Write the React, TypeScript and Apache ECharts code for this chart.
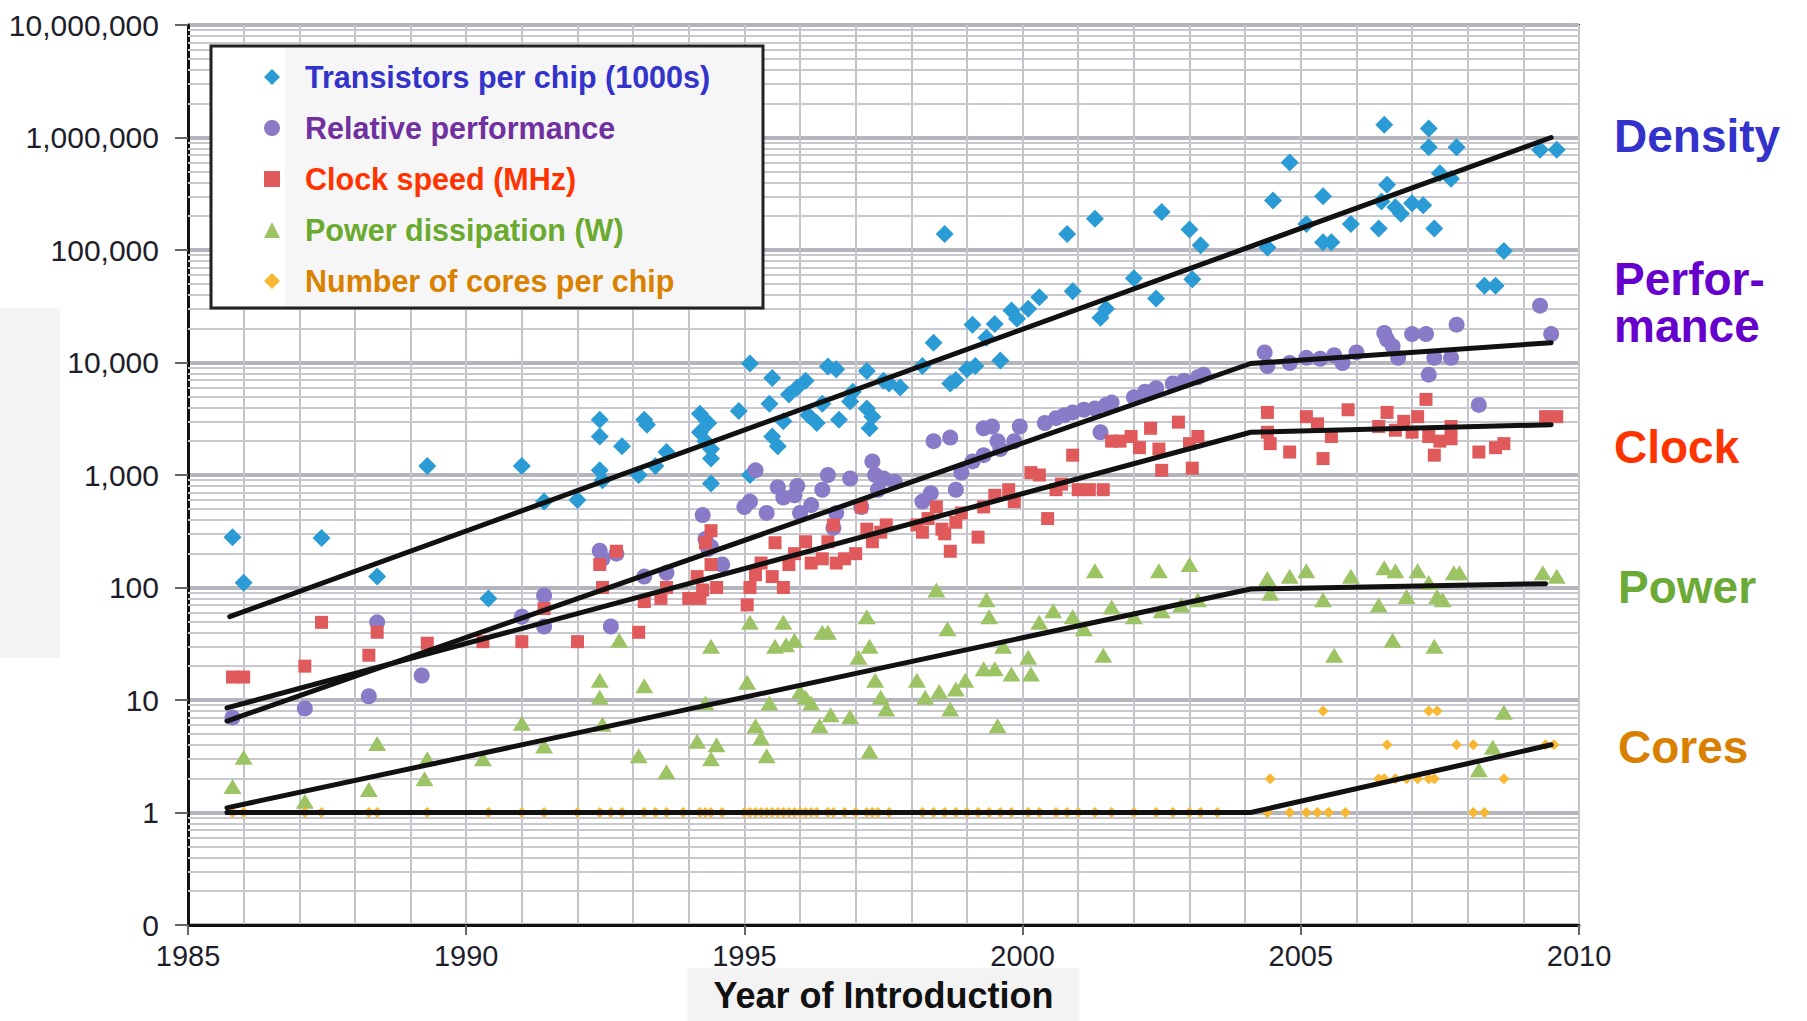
import React, { useEffect, useRef } from "react";
import * as echarts from "echarts";

// ---------- data: [year, value] ----------
const transistorsData: number[][] = [
  [1985.8, 280], [1986.0, 110], [1987.4, 275], [1988.4, 125], [1989.3, 1200], [1990.4, 80], [1991.0, 1200],
  [1991.4, 580], [1992.0, 600], [1992.4, 3100], [1992.4, 2200], [1992.4, 1100], [1992.45, 900], [1992.8, 1800],
  [1993.1, 1000], [1993.2, 3100], [1993.25, 2800], [1993.4, 1200], [1993.6, 1600], [1994.2, 3500], [1994.2, 2400],
  [1994.3, 2000], [1994.35, 2900], [1994.4, 1700], [1994.4, 840], [1994.4, 1400], [1994.9, 3700], [1995.1, 9800],
  [1995.5, 7300], [1995.45, 4300], [1995.1, 1000], [1995.5, 2200], [1995.6, 1800], [1995.7, 3000], [1995.8, 5200],
  [1995.95, 6000], [1996.1, 6900], [1996.15, 3400], [1996.3, 2900], [1996.4, 4300], [1996.5, 9200], [1996.65, 8700],
  [1996.7, 3100], [1996.9, 4500], [1996.95, 5500], [1997.2, 8400], [1997.2, 3900], [1997.25, 2600], [1997.3, 3300],
  [1997.5, 6900], [1997.6, 6500], [1997.8, 6000], [1998.2, 9300], [1998.4, 15000], [1998.6, 139000], [1998.7, 6500],
  [1998.8, 7000], [1999.0, 8700], [1999.1, 21600], [1999.15, 9300], [1999.35, 16600], [1999.5, 22000], [1999.6, 10400],
  [1999.8, 29000], [1999.9, 24500], [2000.1, 30000], [2000.3, 38000], [2000.8, 139000], [2000.9, 43000], [2001.3, 190000],
  [2001.4, 25000], [2001.5, 30000], [2002.0, 56000], [2002.4, 37000], [2002.5, 218000], [2003.0, 152000], [2003.05, 55000],
  [2003.2, 110000], [2004.4, 105000], [2004.5, 275000], [2004.8, 600000], [2005.1, 170000], [2005.4, 117000],
  [2005.4, 300000], [2005.55, 117000], [2005.9, 170000], [2006.4, 155000], [2006.45, 270000], [2006.5, 1300000],
  [2006.55, 380000], [2006.7, 240000], [2006.8, 210000], [2007.0, 260000], [2007.2, 250000], [2007.3, 1200000],
  [2007.3, 820000], [2007.4, 155000], [2007.5, 480000], [2007.8, 820000], [2007.7, 430000], [2008.3, 48000],
  [2008.5, 48000], [2008.65, 98000], [2009.3, 780000], [2009.6, 780000],
];

const performanceData: number[][] = [
  [1985.8, 7], [1987.1, 8.4], [1988.25, 10.8], [1988.4, 49], [1989.2, 16.5], [1991.0, 55], [1991.4, 85], [1991.4, 45],
  [1992.4, 212], [1992.45, 180], [1992.6, 45], [1992.7, 200], [1993.2, 125], [1993.6, 135], [1994.25, 440], [1994.3, 270],
  [1994.35, 220], [1994.4, 230], [1994.6, 160], [1995.0, 520], [1995.1, 580], [1995.2, 1100], [1995.4, 460], [1995.6, 780],
  [1995.7, 630], [1995.9, 660], [1995.95, 800], [1996.0, 460], [1996.2, 540], [1996.4, 740], [1996.5, 1000], [1996.6, 340],
  [1996.65, 460], [1996.9, 930], [1997.1, 520], [1997.3, 1320], [1997.35, 1000], [1997.4, 740], [1997.5, 930], [1997.7, 870],
  [1998.2, 580], [1998.35, 690], [1998.4, 2000], [1998.7, 2150], [1998.8, 740], [1998.9, 1050], [1999.1, 1320], [1999.3, 1500],
  [1999.3, 2600], [1999.45, 2700], [1999.55, 2000], [1999.6, 1700], [1999.85, 2000], [1999.95, 2700], [2000.4, 2900],
  [2000.6, 3200], [2000.75, 3400], [2000.9, 3600], [2001.1, 3800], [2001.3, 3900], [2001.4, 2400], [2001.5, 4200],
  [2001.6, 4400], [2002.0, 4900], [2002.2, 5500], [2002.4, 5900], [2002.7, 6500], [2002.9, 6900], [2003.15, 7400],
  [2003.25, 7800], [2004.35, 12300], [2004.4, 9300], [2004.8, 9900], [2005.1, 11000], [2005.35, 10800], [2005.6, 11600],
  [2005.75, 9900], [2006.0, 12300], [2006.5, 18300], [2006.55, 16000], [2006.65, 14000], [2006.75, 11000], [2007.0, 17900],
  [2007.25, 17900], [2007.3, 7800], [2007.4, 11000], [2007.7, 11000], [2007.8, 21700], [2008.2, 4200], [2009.3, 32000],
  [2009.5, 17900],
];

const clockData: number[][] = [
  [1985.8, 16], [1986.0, 16], [1987.1, 20], [1987.4, 49], [1988.25, 25], [1988.4, 40], [1989.3, 32], [1990.3, 33],
  [1991.0, 33], [1991.4, 65], [1992.0, 33], [1992.4, 160], [1992.45, 100], [1992.7, 210], [1993.1, 40], [1993.2, 75],
  [1993.5, 80], [1993.6, 100], [1994.0, 80], [1994.15, 125], [1994.2, 80], [1994.25, 95], [1994.3, 250], [1994.4, 320],
  [1994.4, 160], [1994.5, 100], [1995.05, 70], [1995.1, 100], [1995.2, 130], [1995.3, 165], [1995.5, 125], [1995.55, 250],
  [1995.7, 100], [1995.8, 160], [1995.9, 200], [1996.1, 255], [1996.2, 165], [1996.4, 180], [1996.5, 255], [1996.6, 360],
  [1996.65, 165], [1996.8, 180], [1997.0, 200], [1997.1, 520], [1997.2, 330], [1997.3, 255], [1997.45, 310], [1997.55, 360],
  [1998.1, 360], [1998.2, 310], [1998.3, 410], [1998.45, 520], [1998.55, 330], [1998.6, 300], [1998.7, 210], [1998.8, 380],
  [1998.9, 460], [1999.2, 280], [1999.3, 520], [1999.5, 660], [1999.75, 740], [1999.85, 580], [2000.15, 1050], [2000.3, 1000],
  [2000.45, 410], [2000.6, 740], [2000.7, 830], [2000.9, 1500], [2001.0, 740], [2001.2, 740], [2001.45, 740], [2001.6, 2000],
  [2001.75, 2000], [2001.95, 2200], [2002.1, 1750], [2002.3, 2600], [2002.45, 1700], [2002.5, 1100], [2002.8, 2950],
  [2003.0, 1900], [2003.05, 1150], [2003.15, 2200], [2004.4, 3600], [2004.4, 2400], [2004.45, 1900], [2004.8, 1600],
  [2005.1, 3300], [2005.3, 2850], [2005.4, 1400], [2005.55, 2200], [2005.85, 3800], [2006.4, 2700], [2006.55, 3600],
  [2006.7, 2500], [2006.85, 3000], [2007.0, 2400], [2007.1, 3300], [2007.25, 4700], [2007.3, 2200], [2007.4, 1500],
  [2007.5, 2000], [2007.7, 2700], [2007.7, 2100], [2008.2, 1600], [2008.5, 1750], [2008.65, 1900], [2009.4, 3300],
  [2009.6, 3300],
];

const powerData: number[][] = [
  [1985.8, 1.7], [1986.0, 3.1], [1987.1, 1.26], [1988.25, 1.6], [1988.4, 4.1], [1989.25, 2.0], [1989.3, 3.0], [1990.3, 3.0],
  [1991.0, 6.2], [1991.4, 3.9], [1992.4, 15], [1992.4, 10.6], [1992.45, 6.1], [1992.75, 34], [1993.1, 3.2], [1993.2, 13.4],
  [1993.6, 2.3], [1994.15, 4.3], [1994.3, 9.4], [1994.4, 30], [1994.4, 3.0], [1994.5, 4.0], [1995.05, 14.4], [1995.1, 49],
  [1995.2, 5.9], [1995.3, 4.6], [1995.4, 3.2], [1995.45, 9.4], [1995.55, 30], [1995.7, 49], [1995.75, 31], [1995.9, 34],
  [1996.0, 11.9], [1996.1, 10.6], [1996.2, 9.4], [1996.35, 5.9], [1996.4, 40], [1996.5, 40], [1996.55, 7.4], [1996.9, 7.1],
  [1997.05, 24], [1997.2, 55], [1997.25, 30], [1997.25, 3.5], [1997.35, 15], [1997.45, 10.6], [1997.55, 8.3], [1998.1, 15],
  [1998.25, 10.6], [1998.45, 95], [1998.5, 11.9], [1998.65, 43], [1998.7, 8.3], [1998.8, 12.5], [1998.97, 15], [1999.3, 19],
  [1999.35, 78], [1999.4, 55], [1999.5, 19], [1999.55, 5.9], [1999.65, 30], [1999.8, 17], [2000.1, 24], [2000.15, 17],
  [2000.3, 49], [2000.55, 62], [2000.9, 55], [2001.1, 43], [2001.3, 141], [2001.45, 25], [2001.6, 67], [2002.0, 55],
  [2002.45, 141], [2002.5, 62], [2002.85, 70], [2003.0, 160], [2003.15, 78], [2004.4, 120], [2004.45, 89], [2004.8, 126],
  [2005.1, 141], [2005.4, 78], [2005.6, 25], [2005.9, 126], [2006.4, 70], [2006.5, 150], [2006.65, 34], [2006.7, 141],
  [2006.9, 83], [2007.1, 141], [2007.3, 111], [2007.4, 30], [2007.45, 83], [2007.55, 78], [2007.75, 135], [2007.85, 135],
  [2008.2, 2.4], [2008.45, 3.8], [2008.65, 7.8], [2009.35, 135], [2009.6, 126],
];

const coresData: number[][] = [
  [1985.8, 1], [1986.0, 1], [1987.1, 1], [1987.4, 1], [1988.25, 1], [1988.4, 1], [1989.3, 1], [1990.4, 1], [1991.0, 1],
  [1991.4, 1], [1992.0, 1], [1992.4, 1], [1992.6, 1], [1992.8, 1], [1993.2, 1], [1993.4, 1], [1993.6, 1], [1993.9, 1],
  [1994.2, 1], [1994.3, 1], [1994.4, 1], [1994.6, 1], [1995.0, 1], [1995.1, 1], [1995.2, 1], [1995.3, 1], [1995.4, 1],
  [1995.5, 1], [1995.6, 1], [1995.7, 1], [1995.8, 1], [1995.9, 1], [1996.0, 1], [1996.1, 1], [1996.2, 1], [1996.3, 1],
  [1996.5, 1], [1996.6, 1], [1996.8, 1], [1997.0, 1], [1997.2, 1], [1997.3, 1], [1997.4, 1], [1997.6, 1], [1998.2, 1],
  [1998.4, 1], [1998.6, 1], [1998.8, 1], [1999.0, 1], [1999.2, 1], [1999.4, 1], [1999.6, 1], [1999.8, 1], [2000.1, 1],
  [2000.3, 1], [2000.6, 1], [2000.8, 1], [2001.0, 1], [2001.3, 1], [2001.6, 1], [2002.0, 1], [2002.4, 1], [2002.7, 1],
  [2003.0, 1], [2003.2, 1], [2003.5, 1], [2004.4, 1], [2004.8, 1], [2005.1, 1], [2005.3, 1], [2005.5, 1], [2005.8, 1],
  [2008.1, 1], [2008.3, 1], [2004.45, 2], [2006.4, 2], [2006.5, 2], [2006.7, 2], [2006.9, 2], [2007.1, 2], [2007.3, 2],
  [2007.4, 2], [2008.65, 2], [2006.55, 4], [2007.8, 4], [2008.1, 4], [2009.4, 4], [2009.55, 4], [2005.4, 8], [2007.3, 8],
  [2007.45, 8],
];

// trend lines (black)
const transistorsTrend: number[][] = [[1985.75, 55], [2009.5, 1000000]];
const performanceTrend: number[][] = [[1985.7, 6.5], [2004.1, 9800], [2009.5, 15000]];
const clockTrend: number[][] = [[1985.7, 8.5], [2004.1, 2400], [2009.5, 2800]];
const powerTrend: number[][] = [[1985.7, 1.1], [2004.1, 97], [2009.4, 108]];
const coresTrend: number[][] = [[1985.7, 1], [2004.1, 1], [2009.5, 4]];

const seriesNames = [
  "Transistors per chip (1000s)",
  "Relative performance",
  "Clock speed (MHz)",
  "Power dissipation (W)",
  "Number of cores per chip",
];
const legendTextColors = ["#3333cc", "#7030a0", "#ff3300", "#6aaa2e", "#d98200"];
const markerColors = ["#2a9bd5", "#8a7bc8", "#e05a5c", "#9cc464", "#f7b733"];

const rightLabels = ["Density", "Perfor-\nmance", "Clock", "Power", "Cores"];
const rightLabelColors = ["#3333cc", "#6600cc", "#ff3300", "#6aaa35", "#d98000"];

const SANS = "'Liberation Sans', Arial, sans-serif";

export default function App() {
  const ref = useRef<HTMLDivElement>(null);
  useEffect(() => {
    if (!ref.current) return;
    const chart = echarts.init(ref.current, undefined, { renderer: "svg" });

    // minor log gridlines (2..9 x 10^k)
    const minorVals: number[] = [];
    for (let k = -1; k <= 6; k++) {
      for (let m = 2; m <= 9; m++) minorVals.push(m * Math.pow(10, k));
    }

    const scatter = (i: number, data: number[][], symbol: string, size: any) => ({
      name: seriesNames[i],
      type: "scatter",
      data,
      symbol,
      symbolSize: size,
      itemStyle: { color: markerColors[i], opacity: 1 },
      z: 3,
      silent: true,
    });
    const trend = (data: number[][]) => ({
      type: "line",
      data,
      symbol: "none",
      showSymbol: false,
      lineStyle: { color: "#111111", width: 5, type: "solid", opacity: 1, cap: "round", join: "round" },
      z: 4,
      silent: true,
    });

    const option: any = {
      animation: false,
      backgroundColor: "#fff",
      grid: {
        left: 188, right: 228, top: 25, bottom: 96,
        containLabel: false, outerBoundsMode: "none",
        show: true, borderColor: "#333", borderWidth: 2, backgroundColor: "#fff",
      },
      legend: {
        orient: "vertical",
        left: 259, top: 54, padding: 5,
        itemWidth: 16, itemHeight: 16, itemGap: 15,
        z: 20,
        data: seriesNames.map((n, i) => ({ name: n, textStyle: { color: legendTextColors[i] } })),
        textStyle: { fontSize: 30.5, fontWeight: "bold", fontFamily: SANS, lineHeight: 36, padding: [0, 0, 0, 20] },
        selectedMode: false,
      },
      xAxis: [
        {
          type: "value", min: 1985, max: 2010, interval: 1,
          axisLine: { show: true, onZero: false, lineStyle: { color: "#111", width: 3 } },
          axisTick: { show: false }, axisLabel: { show: false },
          splitLine: { show: true, lineStyle: { color: "#c4c4ca", width: 2 } },
        },
        {
          type: "value", min: 1985, max: 2010, interval: 5, position: "bottom",
          axisLine: { show: false, onZero: false },
          axisTick: { show: true, length: 10, lineStyle: { color: "#666", width: 2 } },
          axisLabel: { fontSize: 29, fontFamily: SANS, color: "#1e1e2a", margin: 16, formatter: (v: number) => String(Math.round(v)) },
          splitLine: { show: false },
          name: "Year of Introduction", nameLocation: "middle", nameGap: 43, nameMoveOverlap: false,
          nameTextStyle: {
            fontSize: 36, fontWeight: "bold", fontFamily: SANS, color: "#111",
            backgroundColor: "#f3f3f3", padding: [6, 26, 5, 26], lineHeight: 42,
          },
        },
      ],
      yAxis: {
        type: "log", logBase: 10, min: 0.1, max: 10000000,
        axisLine: { show: true, lineStyle: { color: "#111", width: 3 } },
        axisTick: { show: true, length: 13, lineStyle: { color: "#666", width: 2 } },
        axisLabel: {
          fontSize: 30, fontFamily: SANS, color: "#1e1e2a", margin: 29,
          showMinLabel: true, showMaxLabel: true,
          formatter: (v: number) => (v < 1 ? "0" : Math.round(v).toLocaleString("en-US")),
        },
        splitLine: { show: true, lineStyle: { color: "#b4b4bc", width: 4 } },
      },
      graphic: [
        { type: "rect", z: 0, shape: { x: 0, y: 308, width: 60, height: 350 }, style: { fill: "#f5f5f5" }, silent: true },
        { type: "rect", z: 10, shape: { x: 211, y: 46, width: 552, height: 262 }, style: { fill: "#f6f6f6", stroke: "#222", lineWidth: 3 }, silent: true },
        { type: "rect", z: 11, shape: { x: 213, y: 48, width: 72, height: 258 }, style: { fill: "#ffffff" }, silent: true },
        ...rightLabels.map((t, i) => ({
          type: "text", z: 10, silent: true,
          x: i >= 3 ? 1618 : 1614,
          y: [136, 302, 447, 587, 747][i],
          style: {
            text: t, fill: rightLabelColors[i], fontSize: 46, fontWeight: "bold", fontFamily: SANS,
            verticalAlign: "middle", lineHeight: 47,
          },
        })),
      ],
      series: [
        {
          type: "scatter", data: [], z: 1, silent: true,
          markLine: {
            z: 1,
            silent: true, symbol: ["none", "none"], label: { show: false },
            lineStyle: { color: "#c8c8ce", width: 2, type: "solid" },
            emphasis: { disabled: true },
            data: minorVals.map((v) => ({ yAxis: v })),
          },
        },
        scatter(0, transistorsData, "diamond", 18),
        scatter(1, performanceData, "circle", 16),
        scatter(2, clockData, "rect", 13),
        scatter(3, powerData, "triangle", [18, 15]),
        scatter(4, coresData, "diamond", 11),
        trend(transistorsTrend),
        trend(performanceTrend),
        trend(clockTrend),
        trend(powerTrend),
        trend(coresTrend),
      ],
    };
    chart.setOption(option);
    return () => chart.dispose();
  }, []);
  return <div ref={ref} style={{ position: "fixed", left: 0, top: 0, width: 1807, height: 1021 }} />;
}
